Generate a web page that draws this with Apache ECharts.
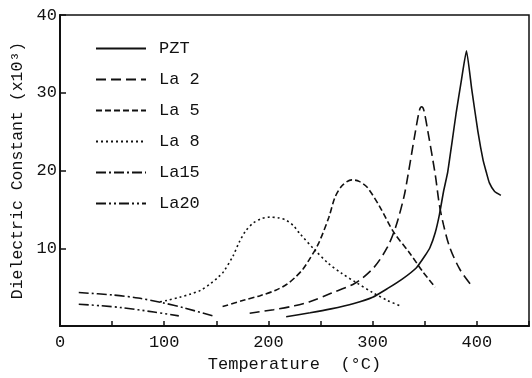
<!DOCTYPE html>
<html>
<head>
<meta charset="utf-8">
<script src="https://cdn.jsdelivr.net/npm/echarts@6/dist/echarts.min.js"></script>
<style>
  html, body { margin: 0; padding: 0; background: #fff; }
  #chart { width: 532px; height: 378px; }
</style>
</head>
<body>
<div id="chart"></div>
<script>
// values: [temperature (°C), dielectric constant (x10^3)]
var seriesNames = ['PZT', 'La 2', 'La 5', 'La 8', 'La15', 'La20'];

var pzt = [[217,1.2],[240,1.7],[260,2.2],[282,2.9],[300,3.7],[314,4.8],[328,6],[342,7.5],
  [350,9],[355,10.1],[360,12],[364,14.3],[368,17.3],[372,19.8],[376,23.5],[380,27.3],
  [385,31.5],[390,35.4],[395,30.5],[401,25],[406,21.3],[409,19.8],[412,18.4],[417,17.3],[423,16.8]];
var la2 = [[182,1.65],[205,2.1],[225,2.6],[239,3.1],[260,4.2],[283,5.5],[301,7.5],[314,10.1],
  [322,12.7],[330,16.6],[334,19.5],[341,25],[345,27.8],[347,28.2],[349,27.8],[353,25],
  [360,19.5],[364,15.6],[368,13],[374,10.1],[384,7.2],[396,5]];
var la5 = [[156,2.5],[176,3.3],[192,3.9],[207,4.6],[218,5.4],[226,6.3],[233,7.3],[239,8.5],
  [248,10.6],[258,14],[264,16.6],[271,18.1],[280,18.8],[287,18.6],[295,17.8],[307,15.3],
  [320,12.1],[336,9.3],[348,7],[360,5]];
var la8 = [[96,3.1],[103,3.3],[115,3.7],[125,4.1],[135,4.6],[144,5.4],[152,6.3],[157,7],
  [166,9],[172,10.8],[178,12.2],[185,13.2],[193,13.8],[201,14],[210,13.9],[217,13.6],
  [224,12.9],[230,11.9],[245,9.7],[258,8],[270,6.8],[284,5.6],[300,4.3],[314,3.3],[328,2.5]];
var la15 = [[18,4.3],[50,4],[75,3.6],[98,3],[120,2.3],[149,1.2]];
var la20 = [[18,2.8],[40,2.6],[60,2.35],[90,1.8],[114,1.3]];

var dashes = ['solid', [10, 5], [6, 3], [2, 3], [10, 3, 2, 3], [10, 3, 2, 3, 2, 3]];
var allData = [pzt, la2, la5, la8, la15, la20];

var font = 'Liberation Mono';
var ink = '#111';

var chart = echarts.init(document.getElementById('chart'));

var series = [];
for (var i = 0; i < seriesNames.length; i++) {
  series.push({
    name: seriesNames[i],
    type: 'line',
    data: allData[i],
    smooth: i === 0 ? 0.15 : 0.3,
    symbol: 'none',
    lineStyle: { color: ink, width: 1.6, type: dashes[i] },
    itemStyle: { color: ink }
  });
}

var option = {
  animation: false,
  backgroundColor: '#fff',
  grid: {
    left: 60, top: 15, right: 1, bottom: 52,
    show: true, borderColor: ink, borderWidth: 1.5, backgroundColor: 'transparent'
  },
  legend: {
    orient: 'vertical',
    left: 90, top: 35,
    itemWidth: 50, itemHeight: 14, itemGap: 14,
    itemStyle: { opacity: 0 },
    textStyle: { fontFamily: font, fontSize: 17, color: ink, padding: [0, 0, 0, 8] },
    data: seriesNames
  },
  xAxis: {
    type: 'value',
    min: 0, max: 450, interval: 50,
    name: 'Temperature  (°C)',
    nameLocation: 'middle', nameGap: 30,
    nameTextStyle: { fontFamily: font, fontSize: 17, color: ink },
    axisLine: { lineStyle: { color: ink, width: 2 } },
    axisTick: { inside: true, length: 5, lineStyle: { color: ink, width: 1.5 } },
    axisLabel: {
      fontFamily: font, fontSize: 17, color: ink, margin: 8,
      formatter: function (v) { return v % 100 === 0 ? v : ''; }
    },
    splitLine: { show: false }
  },
  yAxis: {
    type: 'value',
    min: 0, max: 40, interval: 10,
    name: 'Dielectric Constant (x10³)',
    nameLocation: 'middle', nameGap: 32,
    nameTextStyle: { fontFamily: font, fontSize: 16.5, color: ink },
    axisLine: { lineStyle: { color: ink, width: 2 } },
    axisTick: { inside: true, length: 6, lineStyle: { color: ink, width: 1.5 } },
    axisLabel: {
      fontFamily: font, fontSize: 17, color: ink, margin: 3,
      formatter: function (v) { return v === 0 ? '' : v; }
    },
    splitLine: { show: false }
  },
  series: series
};

chart.setOption(option);
</script>
</body>
</html>
